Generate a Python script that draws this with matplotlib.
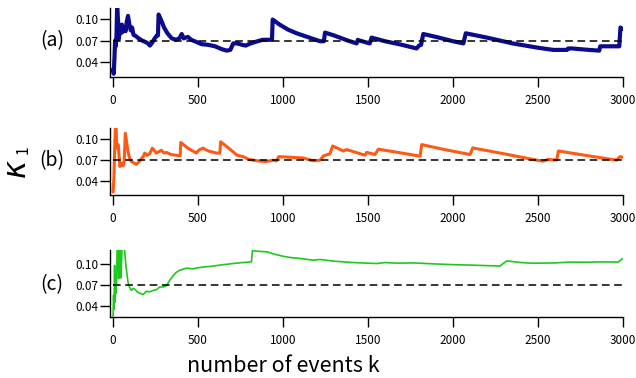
import matplotlib
matplotlib.use("Agg")
import matplotlib.pyplot as plt

plt.rcParams["font.family"] = ["Noto Sans CJK JP", "DejaVu Sans"]

# panel (a): navy series
K_A = [0, 4, 8, 12, 16, 20, 24, 30, 34, 40, 46, 52, 58, 66, 74, 80, 88, 96, 104,
       112, 120, 135, 150, 170, 190, 205, 217, 230, 245, 258, 264, 268, 285, 300,
       320, 345, 370, 390, 404, 415, 440, 460, 490, 520, 560, 600, 640, 668, 690,
       707, 730, 760, 780, 810, 850, 880, 935, 939, 980, 1030, 1080, 1130, 1180,
       1218, 1240, 1247, 1300, 1380, 1433, 1440, 1450, 1510, 1521, 1600, 1700,
       1786, 1800, 1812, 1825, 1900, 2000, 2061, 2075, 2200, 2350, 2500, 2590,
       2670, 2678, 2700, 2800, 2860, 2866, 2978, 2985, 2995]
V_A = [0.030, 0.024, 0.045, 0.070, 0.062, 0.075, 0.116, 0.095, 0.072, 0.090,
       0.080, 0.092, 0.082, 0.088, 0.083, 0.095, 0.104, 0.092, 0.084, 0.088,
       0.078, 0.076, 0.073, 0.070, 0.068, 0.066, 0.063, 0.067, 0.073, 0.077,
       0.077, 0.106, 0.097, 0.088, 0.080, 0.073, 0.071, 0.073, 0.079, 0.073,
       0.075, 0.071, 0.068, 0.065, 0.064, 0.062, 0.058, 0.056, 0.057, 0.066,
       0.066, 0.064, 0.063, 0.066, 0.069, 0.071, 0.071, 0.099, 0.092, 0.085,
       0.080, 0.076, 0.072, 0.069, 0.069, 0.081, 0.077, 0.070, 0.066, 0.071,
       0.070, 0.066, 0.074, 0.069, 0.064, 0.059, 0.063, 0.064, 0.079, 0.075,
       0.069, 0.066, 0.080, 0.074, 0.066, 0.060, 0.057, 0.057, 0.059, 0.059,
       0.057, 0.056, 0.062, 0.062, 0.088, 0.086]

# panel (b): orange series
K_B = [0, 5, 10, 14, 18, 22, 30, 36, 40, 50, 59, 66, 72, 80, 88, 98, 108, 122,
       137, 150, 167, 180, 186, 200, 215, 231, 245, 255, 270, 284, 300, 314, 340,
       370, 395, 398, 440, 490, 500, 510, 529, 560, 608, 628, 633, 680, 730, 765,
       800, 850, 902, 940, 961, 975, 1050, 1120, 1176, 1218, 1237, 1276, 1292,
       1355, 1374, 1482, 1492, 1541, 1561, 1700, 1806, 1816, 1950, 2100, 2116,
       2300, 2492, 2531, 2560, 2610, 2620, 2800, 2963, 2982, 2998]
V_B = [0.025, 0.045, 0.090, 0.117, 0.117, 0.087, 0.092, 0.075, 0.061, 0.066,
       0.062, 0.070, 0.108, 0.095, 0.082, 0.072, 0.068, 0.066, 0.064, 0.067,
       0.072, 0.076, 0.080, 0.077, 0.079, 0.087, 0.083, 0.080, 0.082, 0.084,
       0.080, 0.081, 0.078, 0.077, 0.076, 0.095, 0.087, 0.080, 0.083, 0.085,
       0.087, 0.083, 0.080, 0.080, 0.096, 0.087, 0.077, 0.075, 0.071, 0.069,
       0.068, 0.070, 0.069, 0.075, 0.074, 0.073, 0.069, 0.070, 0.076, 0.079,
       0.090, 0.083, 0.085, 0.077, 0.081, 0.078, 0.0855, 0.080, 0.0756, 0.092,
       0.085, 0.078, 0.0873, 0.079, 0.070, 0.0686, 0.071, 0.070, 0.083, 0.076,
       0.070, 0.075, 0.074]

# panel (c): green series
K_C = [0, 3, 6, 9, 12, 15, 18, 21, 24, 29, 33, 38, 42, 47, 53, 60, 66, 76, 88,
       98, 108, 118, 127, 147, 160, 176, 196, 215, 235, 255, 274, 295, 314, 335,
       353, 372, 392, 431, 470, 510, 550, 588, 650, 706, 760, 814, 820, 860, 902,
       950, 1000, 1050, 1098, 1176, 1218, 1300, 1414, 1551, 1600, 1669, 1767,
       1900, 2002, 2150, 2276, 2316, 2400, 2473, 2600, 2688, 2800, 2884, 2972,
       3000]
V_C = [0.025, 0.055, 0.035, 0.098, 0.045, 0.070, 0.058, 0.075, 0.125, 0.125,
       0.079, 0.125, 0.115, 0.080, 0.125, 0.125, 0.125, 0.096, 0.074, 0.066,
       0.062, 0.065, 0.064, 0.059, 0.058, 0.056, 0.061, 0.060, 0.062, 0.063,
       0.067, 0.067, 0.069, 0.077, 0.083, 0.088, 0.091, 0.094, 0.093, 0.095,
       0.096, 0.097, 0.099, 0.1006, 0.102, 0.103, 0.119, 0.118, 0.1175, 0.114,
       0.111, 0.109, 0.108, 0.1054, 0.1064, 0.104, 0.102, 0.1006, 0.102, 0.1012,
       0.1015, 0.100, 0.099, 0.098, 0.097, 0.1044, 0.102, 0.101, 0.1015, 0.1027,
       0.1025, 0.103, 0.1027, 0.108]

REF_LEVEL = 0.07
Y_TICKS = [0.04, 0.07, 0.10]
Y_TICK_LABELS = ["0.04", "0.07", "0.10"]
X_TICKS = [0, 500, 1000, 1500, 2000, 2500, 3000]
PANEL_LABELS = ["(a)", "(b)", "(c)"]

W, H = 636, 378
fig = plt.figure(figsize=(W / 100, H / 100), dpi=100)

# (top px, bottom px, ylim, data, colour, linewidth)
panels = [
    (8, 77, (0.0195, 0.115), K_A, V_A, "#0b0b8e", 3.0),
    (128, 195, (0.0207, 0.1155), K_B, V_B, "#ff5a14", 2.2),
    (250, 317, (0.024, 0.120), K_C, V_C, "#1ec81e", 1.2),
]

for (top, bot, ylim, ks, vs, color, lw), label in zip(panels, PANEL_LABELS):
    ax = fig.add_axes([110 / W, 1 - bot / H, 513 / W, (bot - top) / H])
    ax.plot(ks, vs, color=color, lw=lw, solid_joinstyle="round",
            solid_capstyle="round")
    ax.plot([0, 3000], [REF_LEVEL, REF_LEVEL], color="black", lw=1.1,
            dashes=(5, 3))
    ax.set_xlim(-18, 3000)
    ax.set_ylim(*ylim)
    ax.set_yticks(Y_TICKS)
    ax.set_yticklabels(Y_TICK_LABELS)
    ax.set_xticks(X_TICKS)
    for side in ("top", "right"):
        ax.spines[side].set_visible(False)
    for side in ("left", "bottom"):
        ax.spines[side].set_linewidth(1.0)
    ax.tick_params(axis="both", direction="out", length=7, width=1.0,
                   labelsize=8.5)
    ax.tick_params(axis="y", pad=1.5)
    ax.tick_params(axis="x", pad=5)
    y_mid = 1 - (top + (bot - top) * (ylim[1] - REF_LEVEL) / (ylim[1] - ylim[0])) / H
    fig.text(52 / W, y_mid, label, fontsize=14, ha="center", va="center")

fig.text(18 / W, 1 - 169 / H, r"$\kappa$", fontsize=22, rotation=90,
         ha="center", va="center")
fig.text(23 / W, 1 - 150 / H, "1", fontsize=11, rotation=90,
         ha="center", va="center")
fig.text(283 / W, 1 - 366 / H, "number of events k", fontsize=15.5,
         ha="center", va="center")

fig.savefig("out.png", dpi=100)
